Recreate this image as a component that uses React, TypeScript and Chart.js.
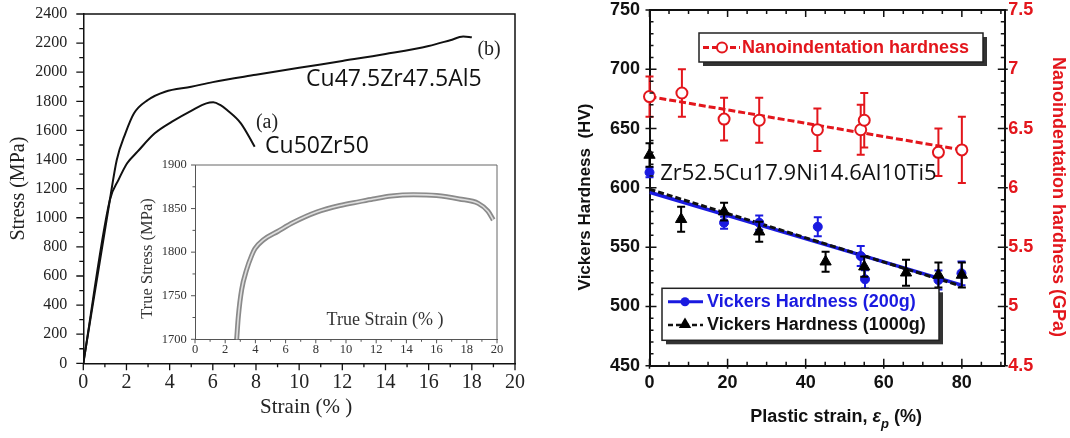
import React, { useEffect, useRef } from "react";
import { Chart, registerables } from "chart.js";

Chart.register(...registerables);

// ---------------- Left panel: engineering stress-strain ----------------
const strainA = [0, 1.23, 1.63, 2.03, 2.51, 3.31, 4.11, 5.06, 5.7, 6.02, 6.34, 6.66, 7.3, 7.94];
const stressA = [0, 1122, 1260, 1374, 1454, 1580, 1660, 1740, 1786, 1793, 1775, 1740, 1649, 1488];
const strainB = [0, 1.23, 1.55, 1.95, 2.35, 2.99, 3.79, 5, 6, 8, 10, 12, 14, 16, 17, 17.6, 18];
const stressB = [0, 1122, 1397, 1580, 1718, 1809, 1866, 1900, 1932, 1982, 2030, 2077, 2125, 2180, 2220, 2245, 2240];

// inset: true stress - true strain
const trueStrain = [2.76, 2.87, 3.09, 3.42, 3.75, 3.97, 4.52, 5.5, 6.5, 8.06, 9.6, 10.9, 11.8, 13, 14.46, 16, 17.5, 18.76, 19.4, 19.75];
const trueStress = [1700, 1726, 1757, 1780, 1796, 1804, 1814, 1824, 1834, 1846, 1853.5, 1858, 1861, 1864.5, 1866, 1865, 1861, 1856, 1847, 1837];

// ---------------- Right panel: hardness vs plastic strain ----------------
const nanoX = [0, 8.3, 19.1, 28.1, 43.0, 54.1, 55.0, 74.0, 80.0];
const nanoGPa = [6.77, 6.8, 6.58, 6.57, 6.49, 6.49, 6.57, 6.3, 6.32];
const nanoErr = [0.17, 0.2, 0.18, 0.19, 0.18, 0.21, 0.23, 0.2, 0.28];

const hv200X = [0, 19.1, 28.1, 43.1, 54.1, 55.2, 74.0, 79.9];
const hv200 = [613, 570.6, 570.6, 567.2, 542.5, 522.9, 522.3, 527.9];
const hv200Err = [4, 5, 6, 8, 8.5, 7.7, 8, 10];

const hv1000X = [0, 8.1, 19.1, 28.1, 45.1, 55.0, 65.7, 74.0, 80.0];
const hv1000 = [627.7, 573.5, 579.9, 563, 537.7, 533.5, 528.4, 526.5, 526.5];
const hv1000Err = [10, 10.5, 7.5, 8.5, 8.5, 8.5, 11, 10.5, 10.5];

const fitX = [0, 80];
const nanoFit = [6.77, 6.32];
const hv200Fit = [596.3, 518];
const hv1000Fit = [598.8, 517];

// ---------------- tick labels ----------------
const leftXTicks = [0, 2, 4, 6, 8, 10, 12, 14, 16, 18, 20];
const leftYTicks = [0, 200, 400, 600, 800, 1000, 1200, 1400, 1600, 1800, 2000, 2200, 2400];
const insetXTicks = [0, 2, 4, 6, 8, 10, 12, 14, 16, 18, 20];
const insetYTicks = [1700, 1750, 1800, 1850, 1900];
const rightXTicks = [0, 20, 40, 60, 80];
const rightYTicks = [450, 500, 550, 600, 650, 700, 750];
const rightY2Ticks = [4.5, 5, 5.5, 6, 6.5, 7, 7.5];

const SERIF = "'Liberation Serif', 'Times New Roman', serif";
const SANS = "'Liberation Sans', Arial, sans-serif";
const OPEN = "'Open Sans', 'Noto Sans', sans-serif";
const RED = "#e3161c";
const BLUE = "#1a1ae0";

const pts = (xs: number[], ys: number[]) => xs.map((x, i) => ({ x, y: ys[i] }));
const range = (a: number, b: number, s: number) => {
  const out: number[] = [];
  for (let v = a; v <= b + 1e-9; v += s) out.push(+v.toFixed(4));
  return out;
};
const setTicks = (vals: number[]) => (s: any) => {
  s.ticks = vals.map((v) => ({ value: v }));
};

function drawTicks(ctx: any, area: any, side: string, pixels: number[], inLen: number, outLen: number) {
  ctx.beginPath();
  for (const p of pixels) {
    if (side === "bottom") { ctx.moveTo(p, area.bottom + outLen); ctx.lineTo(p, area.bottom - inLen); }
    else if (side === "top") { ctx.moveTo(p, area.top - outLen); ctx.lineTo(p, area.top + inLen); }
    else if (side === "left") { ctx.moveTo(area.left - outLen, p); ctx.lineTo(area.left + inLen, p); }
    else { ctx.moveTo(area.right + outLen, p); ctx.lineTo(area.right - inLen, p); }
  }
  ctx.stroke();
}

function txt(ctx: any, s: string, x: number, y: number, font: string, color: string, align = "left", rot = 0) {
  ctx.save();
  ctx.translate(x, y);
  ctx.rotate(rot);
  ctx.font = font;
  ctx.fillStyle = color;
  ctx.textAlign = align;
  ctx.textBaseline = "middle";
  ctx.fillText(s, 0, 0);
  ctx.restore();
}

// ---------------- Left chart ----------------
const leftDecor = {
  id: "leftDecor",
  afterDraw(chart: any) {
    const { ctx, chartArea: a, scales } = chart;
    const x = scales.x, y = scales.y;
    ctx.save();
    ctx.strokeStyle = "#111";
    ctx.lineWidth = 1.5;
    ctx.beginPath();
    ctx.moveTo(a.left, a.top);
    ctx.lineTo(a.right, a.top);
    ctx.lineTo(a.right, a.bottom);
    ctx.stroke();
    ctx.lineWidth = 1.3;
    drawTicks(ctx, a, "bottom", leftXTicks.map((v) => x.getPixelForValue(v)), 0, 7);
    drawTicks(ctx, a, "bottom", range(1, 19, 2).map((v) => x.getPixelForValue(v)), 0, 4);
    drawTicks(ctx, a, "left", leftYTicks.map((v) => y.getPixelForValue(v)), 0, 7);
    drawTicks(ctx, a, "left", range(100, 2300, 200).map((v) => y.getPixelForValue(v)), 0, 4);
    txt(ctx, "(b)", x.getPixelForValue(18.8), y.getPixelForValue(2154), `20px ${SERIF}`, "#222", "center");
    txt(ctx, "Cu47.5Zr47.5Al5", x.getPixelForValue(10.32), y.getPixelForValue(1948), `23px ${OPEN}`, "#111");
    txt(ctx, "(a)", x.getPixelForValue(8.51), y.getPixelForValue(1652), `20px ${SERIF}`, "#222", "center");
    txt(ctx, "Cu50Zr50", x.getPixelForValue(8.42), y.getPixelForValue(1487), `23px ${OPEN}`, "#111");
    txt(ctx, "Strain (% )", (a.left + a.right) / 2 + 7, 407, `21px ${SERIF}`, "#222", "center");
    ctx.restore();
  },
};

function makeLeft(canvas: HTMLCanvasElement) {
  const curve = (xs: number[], ys: number[]) => ({
    data: pts(xs, ys),
    borderColor: "#111",
    borderWidth: 2,
    pointRadius: 0,
    fill: false,
    cubicInterpolationMode: "monotone",
  });
  return new Chart(canvas, {
    type: "line",
    data: { datasets: [curve(strainB, stressB), curve(strainA, stressA)] as any },
    options: {
      responsive: false,
      animation: false,
      events: [],
      layout: { padding: { top: 14, right: 25, left: 0, bottom: 0 } },
      plugins: { legend: { display: false }, tooltip: { enabled: false } },
      scales: {
        x: {
          type: "linear", min: 0, max: 20,
          afterBuildTicks: setTicks(leftXTicks),
          afterFit: (s: any) => { s.height = 74.7; },
          grid: { display: false, drawTicks: true, tickLength: 7.7 },
          border: { display: true, color: "#111", width: 1.5 },
          ticks: { padding: 0, color: "#222", font: { family: SERIF, size: 20, lineHeight: 1.2 }, callback: (v: any) => String(v), maxRotation: 0, autoSkip: false },
        },
        y: {
          type: "linear", min: 0, max: 2400,
          afterBuildTicks: setTicks(leftYTicks),
          afterFit: (s: any) => { s.width = 83.3; },
          grid: { display: false, drawTicks: true, tickLength: 16 },
          border: { display: true, color: "#111", width: 1.5 },
          ticks: { padding: 0, color: "#222", font: { family: SERIF, size: 16, lineHeight: 1 }, callback: (v: any) => String(v), autoSkip: false },
          title: { display: true, text: "Stress (MPa)", color: "#222", font: { family: SERIF, size: 20, lineHeight: 1.2 }, padding: { top: 7, bottom: 0 } },
        },
      },
    } as any,
    plugins: [leftDecor],
  });
}

// ---------------- Inset chart ----------------
const insetDecor = {
  id: "insetDecor",
  afterDraw(chart: any) {
    const { ctx, chartArea: a, scales } = chart;
    const x = scales.x, y = scales.y;
    ctx.save();
    ctx.strokeStyle = "#666";
    ctx.lineWidth = 1;
    ctx.beginPath();
    ctx.moveTo(a.left, a.top);
    ctx.lineTo(a.right, a.top);
    ctx.lineTo(a.right, a.bottom);
    ctx.stroke();
    ctx.strokeStyle = "#555";
    drawTicks(ctx, a, "bottom", insetXTicks.map((v) => x.getPixelForValue(v)), 0, 4);
    drawTicks(ctx, a, "bottom", range(1, 19, 2).map((v) => x.getPixelForValue(v)), 0, 2.5);
    drawTicks(ctx, a, "left", insetYTicks.map((v) => y.getPixelForValue(v)), 0, 4);
    drawTicks(ctx, a, "left", [1725, 1775, 1825, 1875].map((v) => y.getPixelForValue(v)), 0, 2.5);
    txt(ctx, "True Strain (% )", x.getPixelForValue(12.58), y.getPixelForValue(1722), `18px ${SERIF}`, "#333", "center");
    txt(ctx, "True Stress (MPa)", 18, 108.5, `16.5px ${SERIF}`, "#333", "center", -Math.PI / 2);
    ctx.restore();
  },
};

function makeInset(canvas: HTMLCanvasElement) {
  const data = pts(trueStrain, trueStress);
  return new Chart(canvas, {
    type: "line",
    data: {
      datasets: [
        { data, borderColor: "#dedede", borderWidth: 1.6, pointRadius: 0, cubicInterpolationMode: "monotone", clip: false },
        { data, borderColor: "#8a8a8a", borderWidth: 5, pointRadius: 0, cubicInterpolationMode: "monotone", clip: false },
      ] as any,
    },
    options: {
      responsive: false,
      animation: false,
      events: [],
      layout: { padding: { top: 15, right: 8, left: 0, bottom: 0 } },
      plugins: { legend: { display: false }, tooltip: { enabled: false } },
      scales: {
        x: {
          type: "linear", min: 0, max: 20,
          afterBuildTicks: setTicks(insetXTicks),
          afterFit: (s: any) => { s.height = 22.7; },
          grid: { display: false, drawTicks: true, tickLength: 3.2 },
          border: { display: true, color: "#555", width: 1 },
          ticks: { padding: 0, color: "#333", font: { family: SERIF, size: 12.5, lineHeight: 1.2 }, callback: (v: any) => String(v), maxRotation: 0, autoSkip: false },
        },
        y: {
          type: "linear", min: 1700, max: 1900,
          afterBuildTicks: setTicks(insetYTicks),
          afterFit: (s: any) => { s.width = 65; },
          grid: { display: false, drawTicks: true, tickLength: 8.3 },
          border: { display: true, color: "#555", width: 1 },
          ticks: { padding: 0, color: "#333", font: { family: SERIF, size: 12.5, lineHeight: 1 }, callback: (v: any) => String(v), autoSkip: false },
        },
      },
    } as any,
    plugins: [insetDecor],
  });
}

// ---------------- Right chart ----------------
function triangle(ctx: any, cx: number, cy: number, r: number, color: string) {
  ctx.beginPath();
  ctx.moveTo(cx, cy - r);
  ctx.lineTo(cx + r * 0.95, cy + r * 0.6);
  ctx.lineTo(cx - r * 0.95, cy + r * 0.6);
  ctx.closePath();
  ctx.fillStyle = color;
  ctx.fill();
}

function legendBox(ctx: any, x: number, y: number, w: number, h: number) {
  ctx.fillStyle = "#333";
  ctx.fillRect(x + 4, y + 4, w, h);
  ctx.fillStyle = "#fff";
  ctx.fillRect(x, y, w, h);
  ctx.strokeStyle = "#222";
  ctx.lineWidth = 1.5;
  ctx.setLineDash([]);
  ctx.strokeRect(x, y, w, h);
}

const rightDecor = {
  id: "rightDecor",
  beforeDatasetDraw(chart: any, args: any) {
    const ds = chart.data.datasets[args.index];
    if (!ds.errors) return;
    const xs = chart.scales.x, ys = chart.scales[ds.yAxisID];
    const ctx = chart.ctx;
    ctx.save();
    ctx.strokeStyle = ds.errorColor;
    ctx.lineWidth = 2;
    ctx.setLineDash([]);
    ds.data.forEach((p: any, i: number) => {
      const e = ds.errors[i];
      const px = xs.getPixelForValue(p.x);
      const t = ys.getPixelForValue(p.y + e), b = ys.getPixelForValue(p.y - e);
      ctx.beginPath();
      ctx.moveTo(px, t); ctx.lineTo(px, b);
      ctx.moveTo(px - 4, t); ctx.lineTo(px + 4, t);
      ctx.moveTo(px - 4, b); ctx.lineTo(px + 4, b);
      ctx.stroke();
    });
    ctx.restore();
  },
  afterDraw(chart: any) {
    const { ctx, chartArea: a, scales } = chart;
    const x = scales.x, y = scales.y;
    ctx.save();
    ctx.strokeStyle = "#111";
    ctx.lineWidth = 2;
    ctx.beginPath();
    ctx.moveTo(a.left, a.top);
    ctx.lineTo(a.right, a.top);
    ctx.stroke();
    ctx.lineWidth = 1.5;
    const xMaj = rightXTicks.map((v) => x.getPixelForValue(v));
    const xMin = range(5, 90, 5).filter((v) => v % 20 !== 0).map((v) => x.getPixelForValue(v));
    const yMaj = rightYTicks.map((v) => y.getPixelForValue(v));
    const yMin = range(460, 740, 10).filter((v) => v % 50 !== 0).map((v) => y.getPixelForValue(v));
    drawTicks(ctx, a, "bottom", xMaj, 7, 3);
    drawTicks(ctx, a, "bottom", xMin, 4, 0);
    drawTicks(ctx, a, "top", xMaj, 7, 0);
    drawTicks(ctx, a, "top", xMin, 4, 0);
    drawTicks(ctx, a, "left", yMaj, 7, 4);
    drawTicks(ctx, a, "left", yMin, 4, 0);
    drawTicks(ctx, a, "right", yMaj, 7, 3);
    drawTicks(ctx, a, "right", yMin, 4, 0);

    // composition label
    txt(ctx, "Zr52.5Cu17.9Ni14.6Al10Ti5", x.getPixelForValue(2.74), y.getPixelForValue(612.3), `22px ${OPEN}`, "#111");

    // axis titles
    txt(ctx, "Vickers Hardness  (HV)", 25, 197, `bold 17px ${SANS}`, "#111", "center", -Math.PI / 2);
    txt(ctx, "Nanoindentation hardness (GPa)", 498, 197, `bold 18px ${SANS}`, RED, "center", Math.PI / 2);
    const parts: [string, string, number][] = [
      ["Plastic strain, ", `bold 18px ${SANS}`, 0],
      ["\u03b5", `italic bold 18px ${SANS}`, 0],
      ["p", `italic bold 13px ${SANS}`, 7],
      [" (%)", `bold 18px ${SANS}`, 0],
    ];
    let total = 0;
    for (const p of parts) { ctx.font = p[1]; total += ctx.measureText(p[0]).width; }
    let cx = (a.left + a.right) / 2 + 9 - total / 2;
    for (const p of parts) {
      txt(ctx, p[0], cx, 417 + p[2], p[1], "#111");
      ctx.font = p[1];
      cx += ctx.measureText(p[0]).width;
    }

    // legend 1 (nanoindentation)
    const l1x = a.left + 49.5, l1y = 33, l1w = 284, l1h = 29, r1 = l1y + 14.5;
    legendBox(ctx, l1x, l1y, l1w, l1h);
    ctx.strokeStyle = RED; ctx.lineWidth = 3; ctx.setLineDash([6, 3]);
    ctx.beginPath(); ctx.moveTo(l1x + 4, r1); ctx.lineTo(l1x + 41, r1); ctx.stroke();
    ctx.setLineDash([]);
    ctx.beginPath(); ctx.arc(l1x + 23, r1, 5, 0, Math.PI * 2);
    ctx.fillStyle = "#fff"; ctx.fill(); ctx.lineWidth = 2; ctx.stroke();
    txt(ctx, "Nanoindentation hardness", l1x + 43, r1 + 0.5, `bold 18px ${SANS}`, RED);

    // legend 2 (Vickers)
    const l2x = a.left + 12.5, l2y = 288.3, l2w = 277, l2h = 52;
    const ra = l2y + 13.4, rb = l2y + 36.7;
    legendBox(ctx, l2x, l2y, l2w, l2h);
    ctx.strokeStyle = BLUE; ctx.lineWidth = 3; ctx.setLineDash([]);
    ctx.beginPath(); ctx.moveTo(l2x + 6, ra); ctx.lineTo(l2x + 41, ra); ctx.stroke();
    ctx.beginPath(); ctx.arc(l2x + 23, ra, 4.5, 0, Math.PI * 2); ctx.fillStyle = BLUE; ctx.fill();
    txt(ctx, "Vickers Hardness (200g)", l2x + 45, ra + 0.5, `bold 18px ${SANS}`, BLUE);
    ctx.strokeStyle = "#111"; ctx.lineWidth = 2.5; ctx.setLineDash([5, 3]);
    ctx.beginPath(); ctx.moveTo(l2x + 6, rb); ctx.lineTo(l2x + 41, rb); ctx.stroke();
    ctx.setLineDash([]);
    triangle(ctx, l2x + 23, rb - 1, 6.5, "#000");
    txt(ctx, "Vickers Hardness (1000g)", l2x + 45, rb + 0.5, `bold 18px ${SANS}`, "#111");
    ctx.restore();
  },
};

function makeRight(canvas: HTMLCanvasElement) {
  const tickFont = { family: SANS, size: 18, weight: "bold", lineHeight: 1 };
  return new Chart(canvas, {
    type: "line",
    data: {
      datasets: [
        { label: "Nanoindentation hardness", data: pts(nanoX, nanoGPa), yAxisID: "y2", showLine: false, pointStyle: "circle", pointRadius: 5.5, pointBorderWidth: 2, pointBackgroundColor: "#fff", pointBorderColor: RED, errors: nanoErr, errorColor: RED, order: 1, clip: false },
        { label: "Vickers Hardness (1000g)", data: pts(hv1000X, hv1000), yAxisID: "y", showLine: false, pointStyle: "triangle", pointRadius: 6.5, pointBorderWidth: 1, pointBackgroundColor: "#000", pointBorderColor: "#000", errors: hv1000Err, errorColor: "#000", order: 2, clip: false },
        { label: "Vickers Hardness (200g)", data: pts(hv200X, hv200), yAxisID: "y", showLine: false, pointStyle: "circle", pointRadius: 4.5, pointBorderWidth: 1, pointBackgroundColor: BLUE, pointBorderColor: BLUE, errors: hv200Err, errorColor: BLUE, order: 3, clip: false },
        { label: "nano fit", data: pts(fitX, nanoFit), yAxisID: "y2", borderColor: RED, borderWidth: 3, borderDash: [7, 3], pointRadius: 0, order: 4 },
        { label: "1000g fit", data: pts(fitX, hv1000Fit), yAxisID: "y", borderColor: "#111", borderWidth: 3, borderDash: [6, 3], pointRadius: 0, order: 5 },
        { label: "200g fit", data: pts(fitX, hv200Fit), yAxisID: "y", borderColor: BLUE, borderWidth: 3.5, pointRadius: 0, order: 6 },
      ] as any,
    },
    options: {
      responsive: false,
      animation: false,
      events: [],
      layout: { padding: { top: 10, right: 0, left: 0, bottom: 0 } },
      plugins: { legend: { display: false }, tooltip: { enabled: false } },
      scales: {
        x: {
          type: "linear", min: 0, max: 91,
          afterBuildTicks: setTicks(rightXTicks),
          afterFit: (s: any) => { s.height = 72.3; },
          grid: { display: false, drawTicks: true, tickLength: 6.8 },
          border: { display: true, color: "#111", width: 2 },
          ticks: { padding: 0, color: "#111", font: { ...tickFont, lineHeight: 1.2 }, callback: (v: any) => String(v), maxRotation: 0, autoSkip: false },
        },
        y: {
          type: "linear", position: "left", min: 450, max: 750,
          afterBuildTicks: setTicks(rightYTicks),
          afterFit: (s: any) => { s.width = 89.5; },
          grid: { display: false, drawTicks: true, tickLength: 9.5 },
          border: { display: true, color: "#111", width: 2 },
          ticks: { padding: 0, color: "#111", font: tickFont, callback: (v: any) => String(v), autoSkip: false },
        },
        y2: {
          type: "linear", position: "right", min: 4.5, max: 7.5,
          afterBuildTicks: setTicks(rightY2Ticks),
          afterFit: (s: any) => { s.width = 65.2; },
          grid: { display: false, drawTicks: true, tickLength: 3.5 },
          border: { display: true, color: "#111", width: 2 },
          ticks: { padding: 0, color: RED, font: tickFont, callback: (v: any) => String(v), autoSkip: false },
        },
      },
    } as any,
    plugins: [rightDecor],
  });
}

export default function App() {
  const leftRef = useRef<HTMLCanvasElement>(null);
  const insetRef = useRef<HTMLCanvasElement>(null);
  const rightRef = useRef<HTMLCanvasElement>(null);
  useEffect(() => {
    const charts = [makeLeft(leftRef.current!), makeInset(insetRef.current!), makeRight(rightRef.current!)];
    return () => charts.forEach((c) => c.destroy());
  }, []);
  const abs = (l: number, t: number, w: number, h: number) => ({ position: "absolute" as const, left: l, top: t, width: w, height: h });
  return (
    <div style={{ ...abs(0, 0, 1070, 438), background: "#fff", overflow: "hidden" }}>
      <canvas ref={leftRef} width={540} height={438} style={abs(0, 0, 540, 438)} />
      <canvas ref={insetRef} width={375} height={212} style={abs(130, 150, 375, 212)} />
      <canvas ref={rightRef} width={510} height={438} style={abs(560, 0, 510, 438)} />
    </div>
  );
}
